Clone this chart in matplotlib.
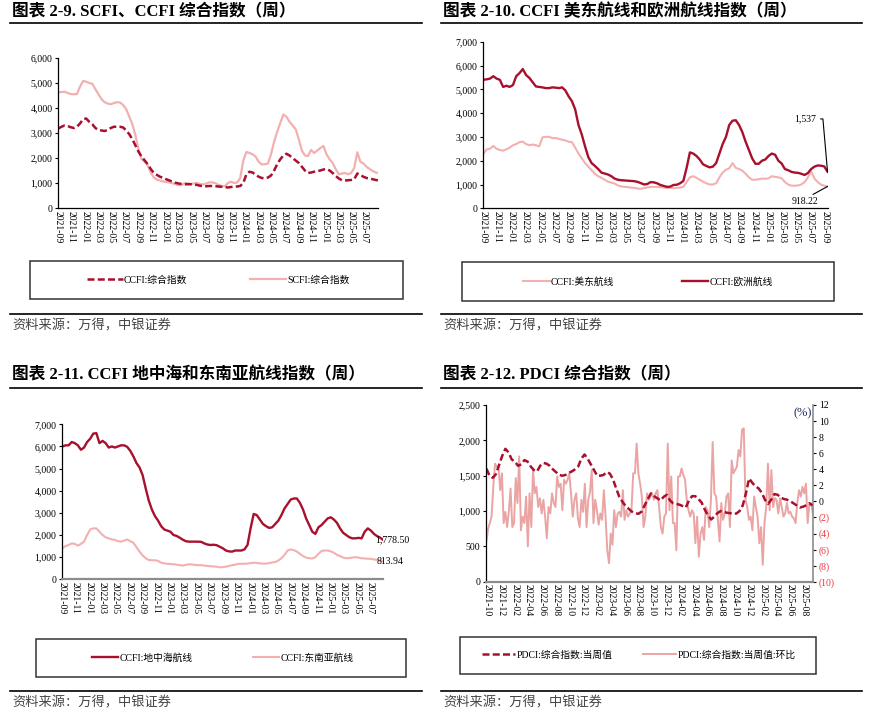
import matplotlib.pyplot as plt
import pandas as pd
from matplotlib.lines import Line2D
from matplotlib.patches import Rectangle

plt.rcParams['font.family'] = ['Liberation Serif', 'Noto Sans CJK SC']

W, H = 871, 712
RED = '#A8102D'
PINK = '#F2B0B0'
SOURCE = '资料来源：万得，中银证券'

# ---- 图表 2-9: SCFI / CCFI composite (bi-weekly readings) ----
scfi = [4620, 4640, 4650, 4600, 4560, 4550, 4560, 4850, 5080, 5050, 5000, 4970, 4750, 4550, 4350,
        4230, 4180, 4150, 4200, 4230, 4220, 4120, 3950, 3650, 3350, 2900, 2350, 1950, 1850, 1700,
        1400, 1220, 1130, 1100, 1060, 1040, 1020, 990, 950, 910, 920, 1000, 990, 960, 980, 1000,
        960, 940, 980, 1030, 1020, 990, 920, 880, 870, 1000, 1050, 1000, 1020, 1200, 1900, 2240,
        2200, 2150, 2050, 1850, 1740, 1750, 1780, 2150, 2650, 3050, 3400, 3740, 3650, 3450, 3300,
        3150, 2750, 2300, 2100, 2080, 2320, 2200, 2300, 2400, 2480, 2150, 1950, 1800, 1550, 1350,
        1380, 1400, 1350, 1400, 1600, 2230, 1850, 1780, 1650, 1560, 1480, 1420, 1400]
ccfi = [3180, 3250, 3300, 3280, 3230, 3200, 3250, 3380, 3550, 3580, 3450, 3350, 3200, 3120, 3100,
        3080, 3120, 3200, 3250, 3250, 3250, 3220, 3100, 2950, 2750, 2500, 2250, 2050, 1900, 1750,
        1550, 1400, 1320, 1250, 1200, 1150, 1100, 1060, 1010, 980, 960, 950, 950, 950, 940, 920,
        890, 870, 870, 880, 880, 870, 860, 850, 840, 820, 840, 860, 860, 880, 1000, 1350, 1450,
        1420, 1330, 1250, 1200, 1190, 1220, 1300, 1500, 1750, 1950, 2100, 2170, 2100, 2000, 1900,
        1800, 1650, 1500, 1400, 1420, 1450, 1480, 1500, 1540, 1560, 1500, 1400, 1280, 1180, 1110,
        1100, 1110, 1120, 1150, 1380, 1320, 1250, 1200, 1180, 1150, 1120, 1100]

# ---- 图表 2-10: CCFI US East / Europe ----
europe = [5400, 5420, 5450, 5550, 5450, 5400, 5100, 5150, 5100, 5180, 5550, 5680, 5850, 5600, 5480,
          5300, 5120, 5100, 5080, 5050, 5050, 5080, 5070, 5050, 5080, 4950, 4700, 4500, 4150, 3500,
          3100, 2600, 2150, 1900, 1780, 1650, 1500, 1460, 1420, 1350, 1250, 1200, 1180, 1170, 1160,
          1150, 1140, 1110, 1060, 1000, 1020, 1100, 1090, 1050, 980, 940, 900, 910, 980, 990, 1050,
          1150, 1700, 2350, 2300, 2200, 2050, 1850, 1780, 1720, 1750, 1900, 2300, 2700, 3000, 3500,
          3680, 3700, 3500, 3200, 2800, 2450, 2100, 1870, 1870, 2000, 2050, 2200, 2300, 2250, 2000,
          1880, 1650, 1600, 1530, 1500, 1490, 1450, 1400, 1480, 1650, 1750, 1800, 1790, 1760, 1537]
us_east = [2300, 2480, 2500, 2620, 2500, 2450, 2420, 2480, 2550, 2650, 2700, 2780, 2800, 2700, 2650,
           2680, 2650, 2600, 2980, 3000, 3000, 2950, 2950, 2920, 2880, 2850, 2800, 2780, 2550, 2300,
           2100, 1900, 1750, 1600, 1450, 1350, 1280, 1200, 1120, 1080, 1040, 960, 920, 900, 890,
           870, 860, 830, 820, 850, 880, 900, 900, 900, 890, 870, 850, 850, 850, 860, 870, 900,
           1100, 1300, 1350, 1280, 1200, 1120, 1050, 1000, 1000, 1050, 1300, 1500, 1620, 1680, 1900,
           1700, 1650, 1580, 1450, 1300, 1200, 1200, 1220, 1250, 1240, 1260, 1350, 1320, 1300, 1260,
           1100, 1000, 950, 950, 960, 1000, 1100, 1300, 1550, 1250, 1100, 1000, 950, 918.22]

# ---- 图表 2-11: CCFI Mediterranean / Southeast Asia ----
med = [6000, 6050, 6050, 6200, 6150, 6050, 5850, 5950, 6200, 6350, 6580, 6600, 6150, 6250, 6150,
       5950, 6000, 5950, 6000, 6050, 6050, 5980, 5800, 5550, 5250, 5050, 4700, 4100, 3550, 3150,
       2850, 2650, 2400, 2250, 2200, 2150, 2000, 1960, 1880, 1790, 1720, 1700, 1700, 1700, 1700,
       1690, 1620, 1570, 1550, 1560, 1540, 1470, 1400, 1300, 1260, 1250, 1300, 1300, 1300, 1350,
       1550, 2300, 2950, 2900, 2700, 2500, 2400, 2320, 2350, 2500, 2650, 2900, 3200, 3400, 3600,
       3650, 3650, 3450, 3150, 2750, 2450, 2150, 2050, 2350, 2450, 2600, 2750, 2800, 2700, 2550,
       2300, 2100, 2000, 1900, 1850, 1850, 1870, 1850, 2150, 2300, 2200, 2050, 1950, 1880, 1778.5]
sea = [1400, 1500, 1550, 1620, 1600, 1520, 1600, 1700, 2000, 2250, 2300, 2300, 2150, 2000, 1900,
       1850, 1800, 1780, 1720, 1700, 1750, 1800, 1720, 1650, 1450, 1250, 1080, 950, 870, 860,
       860, 830, 750, 720, 700, 690, 680, 660, 640, 620, 650, 680, 670, 650, 640, 640, 620, 600,
       590, 580, 570, 540, 550, 570, 600, 640, 660, 700, 700, 700, 710, 730, 750, 740, 720, 710,
       710, 730, 760, 780, 850, 950, 1100, 1300, 1350, 1320, 1250, 1150, 1050, 980, 950, 940,
       1000, 1150, 1280, 1300, 1300, 1260, 1200, 1100, 1050, 980, 950, 960, 980, 1000, 980, 950,
       940, 930, 920, 900, 870, 840, 813.94]

# ---- 图表 2-12: PDCI ----
pdci = [1600, 1500, 1470, 1520, 1650, 1780, 1880, 1830, 1730, 1700, 1640, 1660, 1720, 1700, 1630,
        1580, 1560, 1640, 1680, 1670, 1640, 1590, 1550, 1510, 1500, 1510, 1540, 1560, 1590, 1630,
        1740, 1800, 1740, 1660, 1580, 1500, 1500, 1510, 1550, 1530, 1450, 1320, 1200, 1130, 1070,
        1030, 990, 970, 960, 990, 1080, 1170, 1250, 1210, 1180, 1150, 1200, 1230, 1150, 1110,
        1100, 1090, 1070, 1050, 1150, 1210, 1210, 1170, 1120, 1020, 940, 880, 920, 970, 1000,
        990, 975, 970, 960, 965, 1000, 1080, 1250, 1460, 1400, 1350, 1320, 1260, 1160, 1100,
        1160, 1240, 1230, 1190, 1170, 1160, 1140, 1110, 1080, 1050, 1060, 1080, 1110, 1080]
pdci_wow = [-5.0, -3.4, -2.7, -1.9, 1.8, 4.7, 4.3, 4.4, 1.4, 3.5, -2.7, -1.3, -3.2, -1.3, 1.6, -3.2,
            -2.7, 2.9, -0.2, 5.6, -3.6, -1.9, -2.7, 0.6, -5.6, 1.0, -3.2, 3.9, 1.0, 1.8, -0.7, 0.4,
            -1.5, 0.2, -1.9, -4.6, -0.7, -1.5, 1.0, -0.2, -0.7, 3.1, 1.8, 2.2, -1.1, 2.7, 2.2, 2.7,
            3.5, 1.0, -1.9, 0.2, 1.0, -2.1, -3.2, 0.2, -1.3, 2.2, -3.2, 0.2, 1.2, 3.9, -2.7, 0.2,
            -1.1, -2.9, -1.5, -2.3, 1.4, -1.9, -6.1, -7.7, -4.0, -5.4, -1.1, -3.2, -1.5, -1.3, -1.9,
            1.4, -2.3, -1.1, -1.9, -1.5, -1.1, 3.5, 3.5, 7.2, 3.5, 2.2, 0.6, -3.2, -1.9, 1.0, 0.2,
            0.6, 1.0, 0.2, 1.0, 1.4, -0.7, -3.2, -4.0, -1.9, -1.5, 7.2, -1.1, 3.1, -2.7, -2.7, -6.1,
            3.1, 3.1, 4.1, 3.3, 2.7, 0.2, -1.1, -1.9, -1.1, -1.5, -5.2, -1.9, -6.9, -4.0, -3.2, -4.8,
            -0.7, -1.1, -3.2, 0.2, 7.4, 1.0, 0.6, -2.3, -5.0, -0.2, -2.3, -1.5, 0.6, 1.0, -3.2, 5.1,
            3.5, 3.9, 4.3, 6.4, 5.6, 8.9, 9.1, 0.2, -0.7, -2.3, -1.9, -3.6, 0.6, -0.7, -1.9, -5.2,
            -3.2, -7.9, -2.7, -0.7, 4.7, -1.1, 3.9, -0.7, 0.4, 0.2, -1.5, 0.4, -0.7, -1.9, -1.5,
            -0.2, -1.5, -1.3, -1.9, -2.1, -2.7, -0.2, 1.4, 0.6, 1.8, 1.0, 2.2, -2.7, -0.2, -0.2, -1.5]

d_scfi = pd.date_range('2021-09-03', '2025-09-05', periods=len(scfi))
d_lane = pd.date_range('2021-09-03', '2025-09-12', periods=len(europe))
d_med = pd.date_range('2021-09-03', '2025-08-29', periods=len(med))
d_pdci = pd.date_range('2021-09-27', '2025-09-08', periods=len(pdci))
d_wow = pd.date_range('2021-09-27', '2025-09-10', periods=len(pdci_wow))


def fx(x):
    return x / W


def fy(y):
    return 1 - y / H


fig = plt.figure(figsize=(W / 100, H / 100), dpi=100)


def frame(title, x0, x1, title_y, rule_y, box, bottom_y):
    fig.text(fx(x0 + 2), fy(title_y), title, fontsize=12, fontweight='bold',
             ha='left', va='center')
    fig.add_artist(Line2D([fx(x0), fx(x1)], [fy(rule_y)] * 2, color='black', lw=1.2))
    bx0, by0, bx1, by1 = box
    fig.add_artist(Rectangle((fx(bx0), fy(by1)), fx(bx1) - fx(bx0), fy(by0) - fy(by1),
                             transform=fig.transFigure, fill=False, ec='#333333', lw=1.1))
    fig.add_artist(Line2D([fx(x0), fx(x1)], [fy(bottom_y)] * 2, color='black', lw=1.2))
    fig.text(fx(x0 + 2), fy(bottom_y + 12), SOURCE, fontsize=9.5, color='#444444',
             ha='left', va='center', style='italic')


def make_axes(left, right, top, bottom, ymax, ystep, xlim, ticks, grey_bottom=False):
    ax = fig.add_axes([fx(left), fy(bottom), fx(right) - fx(left), fy(top) - fy(bottom)])
    ax.set_ylim(0, ymax)
    yt = list(range(0, ymax + 1, ystep))
    ax.set_yticks(yt)
    ax.set_yticklabels([f'{v:,}' for v in yt], fontsize=7)
    ax.set_xlim(pd.Timestamp(xlim[0]), pd.Timestamp(xlim[1]))
    ax.set_xticks(ticks)
    ax.set_xticklabels([t.strftime('%Y-%m') for t in ticks], rotation=-90, fontsize=7)
    ax.tick_params(axis='x', length=0, pad=2)
    ax.tick_params(axis='y', length=2, pad=2)
    for s in ['top', 'right']:
        ax.spines[s].set_visible(False)
    ax.spines['left'].set_linewidth(0.9)
    if grey_bottom:
        ax.spines['bottom'].set_color('#8c8c8c')
        ax.spines['bottom'].set_linewidth(1.6)
    else:
        ax.spines['bottom'].set_linewidth(0.9)
    return ax


def legend(handles, labels, cx, cy, hl, cs):
    fig.legend(handles, labels, loc='center', bbox_to_anchor=(fx(cx), fy(cy)),
               bbox_transform=fig.transFigure, ncol=2, frameon=False, fontsize=7,
               handlelength=hl, handletextpad=0.15, columnspacing=cs)


# ---------- panel 1 ----------
frame('图表 2-9. SCFI、CCFI 综合指数（周）', 10, 422, 12, 23, (30, 261, 403, 299), 314)
ticks1 = pd.date_range('2021-09-01', '2025-07-01', freq='2MS')
ax1 = make_axes(58, 378, 58, 208, 6000, 1000, ('2021-09-01', '2025-09-01'), ticks1)
l_scfi, = ax1.plot(d_scfi, scfi, color=PINK, lw=1.6)
l_ccfi, = ax1.plot(d_scfi, ccfi, color=RED, lw=1.8, dashes=(2.8, 1.3))
legend([l_ccfi, l_scfi], ['CCFI:综合指数', 'SCFI:综合指数'], 218, 280, 3.7, 6.4)

# ---------- panel 2 ----------
frame('图表 2-10. CCFI 美东航线和欧洲航线指数（周）', 441, 862, 12, 23, (462, 262, 834, 301), 314)
ticks2 = pd.date_range('2021-09-01', '2025-09-01', freq='2MS')
ax2 = make_axes(483, 828, 41.7, 208.3, 7000, 1000, ('2021-09-01', '2025-09-14'), ticks2)
l_us, = ax2.plot(d_lane, us_east, color=PINK, lw=1.5)
l_eu, = ax2.plot(d_lane, europe, color=RED, lw=1.7)
ax2.annotate(f'{europe[-1]:,.0f}', xy=(d_lane[-1], europe[-1]), xytext=(-8, 38),
             textcoords='offset points', ha='right', va='center', fontsize=7,
             arrowprops=dict(arrowstyle='-', color='black', lw=0.8, shrinkA=1, shrinkB=0,
                             relpos=(1, 0.5), connectionstyle='angle,angleA=0,angleB=95,rad=0'))
ax2.annotate(f'{us_east[-1]:.2f}', xy=(d_lane[-1], us_east[-1]), xytext=(-16, -11),
             textcoords='offset points', ha='center', va='center', fontsize=7,
             arrowprops=dict(arrowstyle='-', color='black', lw=0.8, shrinkA=0, shrinkB=0,
                             relpos=(0.6, 1)))
legend([l_us, l_eu], ['CCFI:美东航线', 'CCFI:欧洲航线'], 648, 282, 2.7, 6.9)

# ---------- panel 3 ----------
frame('图表 2-11. CCFI 地中海和东南亚航线指数（周）', 10, 422, 375, 388, (36, 639, 406, 677), 691)
ticks3 = pd.date_range('2021-09-01', '2025-07-01', freq='2MS')
ax3 = make_axes(62, 383, 424.3, 579.3, 7000, 1000, ('2021-09-01', '2025-08-28'), ticks3,
                grey_bottom=True)
l_med, = ax3.plot(d_med, med, color=RED, lw=1.7)
l_sea, = ax3.plot(d_med, sea, color=PINK, lw=1.5)
ax3.annotate(f'{med[-1]:,.2f}', xy=(d_med[-1], med[-1]), xytext=(-6, 0),
             textcoords='offset points', ha='left', va='center', fontsize=7)
ax3.annotate(f'{sea[-1]:.2f}', xy=(d_med[-1], sea[-1]), xytext=(-5, 0),
             textcoords='offset points', ha='left', va='center', fontsize=7)
legend([l_med, l_sea], ['CCFI:地中海航线', 'CCFI:东南亚航线'], 223, 658, 2.7, 6.2)

# ---------- panel 4 ----------
frame('图表 2-12. PDCI 综合指数（周）', 441, 862, 375, 388, (460, 637, 816, 674), 691)
ticks4 = pd.date_range('2021-10-01', '2025-08-01', freq='2MS')
ax4 = make_axes(485.7, 813.3, 405, 581.7, 2500, 500, ('2021-09-24', '2025-09-12'), ticks4,
                grey_bottom=True)
ax4r = ax4.twinx()
l_wow, = ax4r.plot(d_wow, pdci_wow, color='#EBA4A4', lw=1.4)
l_pdci, = ax4.plot(d_pdci, pdci, color=RED, lw=1.8, dashes=(2.8, 1.3))
ax4.set_zorder(ax4r.get_zorder() + 1)
ax4.patch.set_visible(False)
ax4r.set_ylim(-10, 12)
rt = list(range(-10, 13, 2))
ax4r.set_yticks(rt)
ax4r.set_yticklabels([f'({-v})' if v < 0 else str(v) for v in rt], fontsize=7)
for lab, v in zip(ax4r.get_yticklabels(), rt):
    lab.set_color('#E8383D' if v < 0 else 'black')
ax4r.tick_params(axis='y', length=2, pad=2)
for s in ['top', 'left', 'bottom']:
    ax4r.spines[s].set_visible(False)
ax4r.spines['right'].set_color('#8c8c8c')
ax4r.spines['right'].set_linewidth(1.2)
ax4.text(0.995, 0.955, '(%)', transform=ax4.transAxes, ha='right', va='center',
         fontsize=9, color='#1F2F5F')
legend([l_pdci, l_wow], ['PDCI:综合指数:当周值', 'PDCI:综合指数:当周值:环比'], 639, 655, 3.4, 3.1)

fig.savefig('out.png', dpi=100)
